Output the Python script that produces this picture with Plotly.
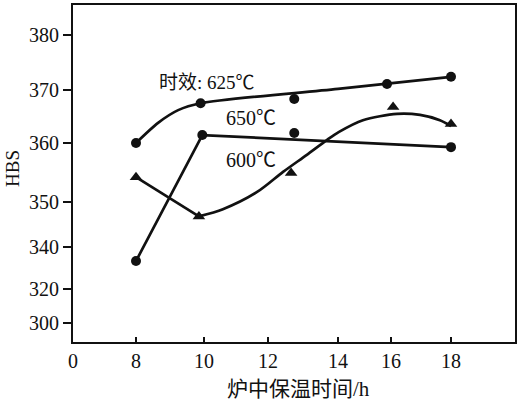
import numpy as np
import plotly.graph_objects as go

# ---------------- data (hours, HBS) ----------------
x_ticks = [0, 8, 10, 12, 14, 16, 18]
y_ticks = [300, 320, 340, 350, 360, 370, 380]

# measured points
t625_x = [8, 9.9, 12.75, 15.85, 18]
t625_y = [360.0, 367.5, 368.3, 371.1, 372.4]
t650_x = [8, 9.95, 12.75, 18]
t650_y = [333.3, 361.5, 361.9, 359.3]
t600_x = [8, 9.85, 12.66, 16.07, 18.05]
t600_y = [354.2, 346.8, 354.9, 366.8, 363.6]

# fitted curves
f625_x = [8, 8.65, 9.24, 9.9, 14, 18]
f625_y = [360.0, 363.8, 366.2, 367.5, 370.2, 372.4]
f650_x = [8, 9.95, 18]
f650_y = [333.3, 361.5, 359.3]
f600a_x = [8, 9.85]
f600a_y = [354.2, 346.8]
f600b_x = [9.85, 10.59, 11.66, 12.43, 13.11, 13.69, 14.04, 14.94, 16.2, 16.97, 17.63, 18.05]
f600b_y = [346.8, 348.4, 351.7, 355.1, 358.0, 360.6, 362.1, 364.3, 365.5, 365.3, 364.3, 363.2]

labels = ["时效: 625℃", "650℃", "600℃"]
x_title = "炉中保温时间/h"
y_title = "HBS"

# ---------------- broken-axis layout (display positions of the ticks) ----------------
X_POS = [0, 63, 131, 195, 265, 318, 378]      # display units along x
Y_POS = [19, 53, 95, 140, 199, 252, 307]      # display units along y
X_RANGE = [0, 442]
Y_RANGE = [0, 337]


def fx(v):
    return np.interp(v, x_ticks[1:], X_POS[1:])


def fy(v):
    return np.interp(v, y_ticks, Y_POS)


SERIF = "Liberation Serif, Noto Sans CJK SC, serif"
BLACK = "#111111"
LW = 2.7

fig = go.Figure()


def add_line(xs, ys, shape="linear"):
    fig.add_trace(go.Scatter(x=fx(xs), y=fy(ys), mode="lines",
                             line=dict(color=BLACK, width=LW, shape=shape, smoothing=0.8),
                             hoverinfo="skip", showlegend=False))


def add_pts(xs, ys, symbol, size):
    fig.add_trace(go.Scatter(x=fx(xs), y=fy(ys), mode="markers",
                             marker=dict(symbol=symbol, size=size, color=BLACK),
                             showlegend=False))


add_line(f625_x, f625_y, "spline")
add_line(f650_x, f650_y)
add_line(f600a_x, f600a_y)
add_line(f600b_x, f600b_y, "spline")
add_pts(t625_x, t625_y, "circle", 10)
add_pts(t650_x, t650_y, "circle", 10)
add_pts(t600_x, t600_y, "triangle-up", 11)

W, H = 519, 408
ML, MR, MT, MB = 73, 4, 5, 66
PW, PH = W - ML - MR, H - MT - MB


def px(xp):
    return (xp - ML) / PW


def py(yp):
    return (H - MB - yp) / PH


ann = [
    dict(text=labels[0], x=px(157), y=py(82), xanchor="left", yanchor="middle", size=19),
    dict(text=labels[1], x=px(224), y=py(118), xanchor="left", yanchor="middle", size=20),
    dict(text=labels[2], x=px(224), y=py(160), xanchor="left", yanchor="middle", size=20),
    dict(text=x_title, x=px(298), y=py(389), xanchor="center", yanchor="middle", size=21),
    dict(text=y_title, x=px(12), y=py(168), xanchor="center", yanchor="middle", size=19, textangle=-90),
]
for a in ann:
    s = a.pop("size")
    a.update(xref="paper", yref="paper", showarrow=False,
             font=dict(family=SERIF, size=s, color=BLACK))

fig.update_layout(
    width=W, height=H,
    margin=dict(l=ML, r=MR, t=MT, b=MB, autoexpand=False),
    paper_bgcolor="white", plot_bgcolor="white",
    annotations=ann,
    font=dict(family=SERIF, size=20, color=BLACK),
)
fig.update_xaxes(range=X_RANGE, tickmode="array", tickvals=X_POS, ticktext=[str(t) for t in x_ticks],
                 ticks="inside", ticklen=5, tickwidth=1.5, tickcolor=BLACK, automargin=False,
                 showline=True, linecolor=BLACK, linewidth=2, mirror=True,
                 showgrid=False, zeroline=False, tickfont=dict(family=SERIF, size=20, color=BLACK))
fig.update_yaxes(range=Y_RANGE, tickmode="array", tickvals=Y_POS, ticktext=[str(t) for t in y_ticks],
                 ticks="outside", ticklen=8, tickwidth=1.5, tickcolor=BLACK, automargin=False,
                 showline=True, linecolor=BLACK, linewidth=2, mirror=True,
                 showgrid=False, zeroline=False, tickfont=dict(family=SERIF, size=20, color=BLACK))

fig.write_html("out.html", config={"displayModeBar": False},
               post_script="document.body.style.margin='0';document.body.style.padding='0';")
